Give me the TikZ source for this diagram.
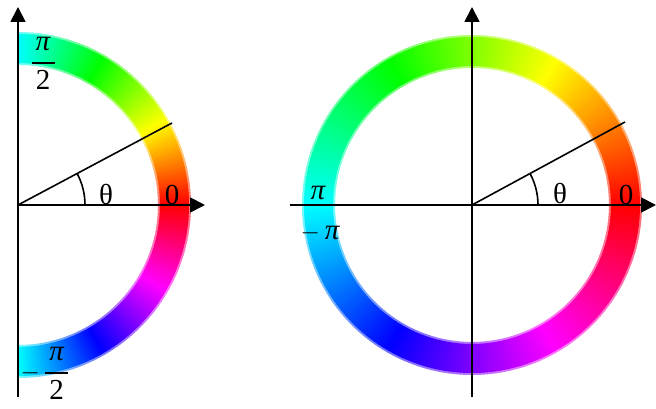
\documentclass[tikz,border=0pt]{standalone}
\usepackage{fontspec}
\setmainfont{Liberation Serif}
\usetikzlibrary{arrows.meta}
\newcommand{\myfrac}[2]{{\hbox to 23pt{\hss\raisebox{2pt}{#1}\hss}\above 1.7pt \hbox to 23pt{\hss\raisebox{-3pt}{#2}\hss}}}
\begin{document}
\begin{tikzpicture}[x=1pt,y=1pt,
  axis/.style={line width=1.8pt,-{Triangle[length=15pt,width=15pt]}},
  ray/.style={line width=1.6pt},
  lbl/.style={font=\fontsize{29}{34}\selectfont, inner sep=0pt},
]
\useasboundingbox (0,0) rectangle (656,409);
% ---------- left half ring: hue = 2*theta ----------
\foreach \r/\R/\mix in {140/173/55,142/171/100}{
  \foreach \a in {-90,...,89}{
    \pgfmathsetmacro\h{mod(2*\a+1+720,360)}
    \pgfmathsetmacro\b{\a+1.3}
    \definecolor{segc}{Hsb}{\h,1,1}
    \fill[segc!\mix!white,shift={(18,204)}] (\a:\r) arc[start angle=\a,end angle=\b,radius=\r]
      -- (\b:\R) arc[start angle=\b,end angle=\a,radius=\R] -- cycle;
  }
}
% ---------- right full ring: hue = theta ----------
\foreach \r/\R/\mix in {137/170/55,139/168/100}{
  \foreach \a in {0,...,359}{
    \pgfmathsetmacro\h{mod(\a+0.5,360)}
    \pgfmathsetmacro\b{\a+1.3}
    \definecolor{segc}{Hsb}{\h,1,1}
    \fill[segc!\mix!white,shift={(472,204)}] (\a:\r) arc[start angle=\a,end angle=\b,radius=\r]
      -- (\b:\R) arc[start angle=\b,end angle=\a,radius=\R] -- cycle;
  }
}
% ---------- left axes ----------
\coordinate (O1) at (18,204);
\coordinate (L1b) at (18,12);
\coordinate (L1t) at (18,402);
\coordinate (L1r) at (205,204);
\coordinate (R1) at (172,286);
\draw[axis] (L1b) -- (L1t);
\draw[axis] (O1) -- (L1r);
\draw[ray] (O1) -- (R1);
\draw[ray] (O1) ++(0:67) arc[start angle=0,end angle=28,radius=67];
\node[lbl] (th1) at (106,214) {θ};
\node[lbl] (z1) at (172,214) {0};
\node[lbl] (pihalf) at (43,346) {$\displaystyle\myfrac{\itshape π}{2}$};
\node[lbl] (mpihalf) at (45,36) {$\displaystyle-\,\myfrac{\itshape π}{2}$};
% ---------- right axes ----------
\coordinate (O2) at (472,204);
\coordinate (L2b) at (472,12);
\coordinate (L2t) at (472,402);
\coordinate (L2l) at (290,204);
\coordinate (L2r) at (656,204);
\coordinate (R2) at (625,287);
\draw[axis] (L2b) -- (L2t);
\draw[axis] (L2l) -- (L2r);
\draw[ray] (O2) -- (R2);
\draw[ray] (O2) ++(0:66) arc[start angle=0,end angle=28,radius=66];
\node[lbl] (th2) at (560,215) {θ};
\node[lbl] (z2) at (626,214) {0};
\node[lbl] (pi2) at (318,216) {\itshape π};
\node[lbl] (mpi2) at (320,176) {$-$\,{\itshape π}};
\end{tikzpicture}
\end{document}
